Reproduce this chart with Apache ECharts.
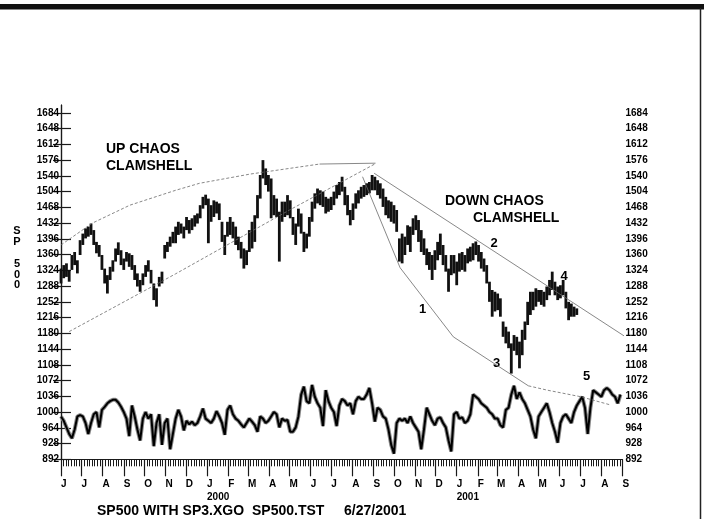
<!DOCTYPE html>
<html><head><meta charset="utf-8">
<script src="https://cdn.jsdelivr.net/npm/echarts@6/dist/echarts.min.js"></script>
<style>html,body{margin:0;padding:0;background:#fff}#c{width:704px;height:519px}</style>
</head><body><div id="c"></div>
<script>
// ---- DATA ----
const startDate = [1999, 6, 1];           // day 0 = 1 Jun 1999
const barStepDays = 4;                     // one bar / oscillator point every 4 calendar days
const priceHigh = [1328,1336,1340,1325,1359,1366,1347,1393,1408,1420,1424,1431,1416,1389,1382,1359,1328,1313,1332,1347,
1374,1388,1370,1351,1366,1363,1359,1336,1317,1302,1317,1336,1347,1325,1294,1283,1309,1321,1382,1389,
1401,1412,1424,1435,1431,1424,1446,1439,1443,1450,1454,1473,1492,1497,1488,1473,1484,1481,1477,1435,
1405,1435,1446,1435,1424,1401,1389,1374,1370,1416,1435,1450,1496,1542,1576,1557,1542,1534,1496,1488,
1458,1481,1481,1496,1484,1446,1431,1465,1454,1412,1408,1446,1481,1500,1511,1507,1504,1492,1488,1492,
1504,1519,1526,1538,1515,1496,1462,1477,1500,1507,1515,1519,1523,1526,1542,1538,1530,1523,1511,1492,
1484,1481,1473,1462,1397,1408,1401,1427,1424,1443,1450,1439,1416,1397,1374,1366,1359,1370,1389,1408,
1382,1359,1328,1359,1359,1344,1363,1366,1359,1374,1378,1386,1390,1382,1366,1351,1336,1298,1279,1275,
1271,1260,1207,1195,1184,1157,1176,1172,1161,1188,1207,1252,1275,1275,1283,1279,1279,1275,1287,1302,
1321,1298,1287,1290,1302,1275,1252,1248,1241,1237];
const priceLow = [1294,1306,1309,1298,1325,1336,1317,1359,1382,1397,1401,1405,1382,1363,1355,1325,1294,1271,1302,1321,
1344,1359,1336,1325,1344,1332,1325,1302,1287,1275,1290,1309,1321,1294,1256,1241,1287,1294,1351,1366,
1378,1386,1386,1405,1408,1397,1416,1408,1416,1424,1431,1443,1465,1473,1386,1435,1446,1454,1439,1389,
1359,1401,1405,1397,1382,1370,1351,1328,1336,1366,1374,1389,1443,1488,1534,1519,1504,1443,1450,1446,
1344,1435,1446,1450,1443,1405,1382,1424,1408,1366,1374,1401,1435,1465,1477,1473,1469,1454,1458,1462,
1473,1488,1496,1504,1473,1450,1427,1439,1465,1477,1488,1492,1496,1500,1507,1507,1496,1488,1469,1450,
1443,1435,1431,1412,1344,1340,1359,1382,1366,1405,1416,1389,1366,1359,1336,1325,1302,1325,1347,1359,
1336,1321,1275,1313,1317,1290,1321,1325,1321,1340,1344,1347,1359,1344,1328,1321,1294,1252,1218,1230,
1233,1218,1172,1157,1146,1088,1140,1130,1100,1130,1165,1199,1222,1233,1241,1252,1245,1241,1256,1267,
1279,1267,1256,1260,1267,1237,1210,1218,1218,1222];
const oscValues = [990,980,965,950,940,960,990,993,990,975,950,975,995,1000,965,1005,1012,1020,1025,1028,
1028,1022,1012,1000,985,945,1015,990,960,935,985,1000,985,995,922,975,995,925,975,985,
915,950,985,1005,990,958,980,972,978,970,975,990,1008,985,980,975,985,1002,990,975,
948,1005,1015,995,985,980,972,965,975,985,978,970,955,990,985,975,980,990,1000,995,
965,985,980,982,955,955,965,990,1040,1058,1025,1020,1062,1035,1020,1010,968,1050,1025,1010,
1000,968,1015,1030,1025,1015,1020,995,1025,1035,1030,1030,1040,1055,1020,978,1010,1005,990,985,
960,925,905,975,985,980,985,975,990,975,965,955,915,960,1010,995,980,970,985,988,
975,965,935,910,995,1000,985,988,975,980,995,1040,1035,1030,1020,1015,1010,1000,995,985,
985,970,965,1005,1010,1040,1060,1030,1045,1030,1020,1005,990,960,940,990,1000,1010,1020,1000,
975,955,930,975,990,995,985,975,1000,1015,1025,1035,1010,950,1010,1050,1045,1040,1035,1050,
1055,1050,1040,1035,1020,1040];
const yTicks = [892,928,964,1000,1036,1072,1108,1144,1180,1216,1252,1288,1324,1360,1396,1432,1468,1504,1540,1576,1612,1648,1684];
const monthLabels = ['J','J','A','S','O','N','D','J','F','M','A','M','J','J','A','S','O','N','D','J','F','M','A','M','J','J','A','S'];
const yearLabels = ['2000','2001'];
// clamshell guide lines: [day, value]
const upClamUpper = [[0,1382],[46,1432],[101,1473],[168,1507],[203,1523],[277,1544],[379,1567]];
const upClamTop   = [[379,1567],[461,1569]];
const upClamLower = [[12,1184],[168,1316],[335,1462],[461,1568]];
const downClamUpper = [[459,1546],[849,1150]];
const downClamLower = [[442,1538],[497,1330],[575,1172],[685,1060]];
const downClamTail  = [[685,1060],[713,1050],[762,1035],[806,1016]];

// ---- BUILD ----
const DAY0 = Date.UTC(startDate[0], startDate[1]-1, startDate[2]);
const dayOf = (y,m,d) => Math.round((Date.UTC(y,m-1,d)-DAY0)/864e5);
const monthDays = [];
for (let i = 0; i < monthLabels.length; i++) { const m = 5 + i; monthDays.push(dayOf(1999 + Math.floor(m/12), (m%12)+1, 1)); }
const yearDays = [dayOf(2000,1,1), dayOf(2001,1,1)];
const minorTicks = [];
for (let i = 0; i < monthDays.length-1; i++) { const a = monthDays[i], b = monthDays[i+1]; for (let k=1;k<8;k++) minorTicks.push(a + (b-a)*k/8); }
const X_MAX = monthDays[monthDays.length-1];
const bars = priceHigh.map((h,i)=>[i*barStepDays, priceLow[i], h]);
const osc = oscValues.map((v,i)=>[i*barStepDays, v]);

const FONT = 'Liberation Sans, Arial, sans-serif';
const chart = echarts.init(document.getElementById('c'), null, {renderer:'canvas'});
const axisCol = '#1a1a1a';
const yAxisBase = (pos, tickLen, margin) => ({
  type:'value', position:pos, min:892, max:1702,
  axisLine:{show:true, lineStyle:{color:axisCol, width:1.2}},
  axisTick:{show:true, length:tickLen, customValues:yTicks, lineStyle:{color:axisCol, width:1.2}},
  axisLabel:{show:true, customValues:yTicks, margin:margin, fontFamily:FONT, fontWeight:'bold', fontSize:10, color:'#000',
    formatter:(v)=>String(Math.round(v))},
  splitLine:{show:false}
});
const guide = (data, dashed) => ({type:'line', data, symbol:'none', silent:true, clip:false, z:3,
  lineStyle:{color:'#6a6a6a', width:0.8, type: dashed ? [3,2] : 'solid'}});

chart.setOption({
  animation:false,
  backgroundColor:'#fff',
  grid:{left:61, right:81.5, top:105, bottom:59.7, containLabel:false},
  xAxis:[
    {type:'value', min:0, max:X_MAX, axisLine:{show:true, lineStyle:{color:axisCol, width:1.2}},
     axisTick:{show:true, length:7, customValues:minorTicks, lineStyle:{color:axisCol, width:1}},
     axisLabel:{show:false}, splitLine:{show:false}},
    {type:'value', min:0, max:X_MAX, position:'bottom', axisLine:{show:false},
     axisTick:{show:true, length:17, customValues:monthDays, lineStyle:{color:axisCol, width:1.2}},
     axisLabel:{show:true, customValues:monthDays, margin:20, align:'left', fontFamily:FONT, fontWeight:'bold', fontSize:10, color:'#000',
       formatter:(v)=>monthLabels[monthDays.indexOf(Math.round(v))] || ''}, splitLine:{show:false}},
    {type:'value', min:0, max:X_MAX, position:'bottom', axisLine:{show:false}, axisTick:{show:false},
     axisLabel:{show:true, customValues:yearDays, margin:33, align:'left', fontFamily:FONT, fontWeight:'bold', fontSize:10, color:'#000',
       formatter:(v)=>yearLabels[yearDays.indexOf(Math.round(v))] || ''}, splitLine:{show:false}}
  ],
  yAxis:[ yAxisBase('left', 8, 2), yAxisBase('right', 10, 3) ],
  series:[
    {type:'custom', data:bars, encode:{x:0, y:[1,2]}, z:2,
     renderItem:(params, api)=>{
       const d = api.value(0);
       const p1 = api.coord([d, api.value(1)]), p2 = api.coord([d, api.value(2)]);
       return {type:'line', shape:{x1:p1[0], y1:p1[1], x2:p2[0], y2:p2[1]}, style:{stroke:'#111', lineWidth:2.8}};
     }},
    {type:'line', data:osc, symbol:'none', z:1, lineStyle:{color:'#8a8a8a', width:4}},
    {type:'line', data:osc, symbol:'none', z:2, lineStyle:{color:'#000', width:2}},
    guide(upClamUpper, true), guide(upClamTop, false), guide(upClamLower, true),
    guide(downClamUpper, false), guide(downClamLower, false), guide(downClamTail, true)
  ],
  graphic:[
    {type:'rect', shape:{x:0, y:4, width:704, height:5}, style:{fill:'#111'}},
    {type:'line', shape:{x1:0, y1:9.5, x2:704, y2:9.5}, style:{stroke:'#888', lineWidth:1}},
    {type:'line', shape:{x1:700.5, y1:8, x2:700.5, y2:519}, style:{stroke:'#222', lineWidth:1.5}},
    {type:'text', x:17, y:226, style:{text:'S\nP\n\n5\n0\n0', font:'bold 11px '+FONT, fill:'#000', textAlign:'center', lineHeight:10.8}},
    {type:'text', x:106, y:149.5, style:{text:'UP CHAOS', font:'bold 14px '+FONT, fill:'#000', textVerticalAlign:'middle'}},
    {type:'text', x:106, y:166, style:{text:'CLAMSHELL', font:'bold 14px '+FONT, fill:'#000', textVerticalAlign:'middle'}},
    {type:'text', x:445, y:201.5, style:{text:'DOWN CHAOS', font:'bold 14px '+FONT, fill:'#000', textVerticalAlign:'middle'}},
    {type:'text', x:473, y:218, style:{text:'CLAMSHELL', font:'bold 14px '+FONT, fill:'#000', textVerticalAlign:'middle'}},
    {type:'text', x:422.5, y:309, style:{text:'1', font:'bold 13px '+FONT, fill:'#000', textAlign:'center', textVerticalAlign:'middle'}},
    {type:'text', x:494, y:243, style:{text:'2', font:'bold 13px '+FONT, fill:'#000', textAlign:'center', textVerticalAlign:'middle'}},
    {type:'text', x:496.5, y:363.5, style:{text:'3', font:'bold 13px '+FONT, fill:'#000', textAlign:'center', textVerticalAlign:'middle'}},
    {type:'text', x:564, y:276.5, style:{text:'4', font:'bold 13px '+FONT, fill:'#000', textAlign:'center', textVerticalAlign:'middle'}},
    {type:'text', x:586.5, y:376.5, style:{text:'5', font:'bold 13px '+FONT, fill:'#000', textAlign:'center', textVerticalAlign:'middle'}},
    {type:'text', x:97, y:511, style:{text:'SP500 WITH SP3.XGO', font:'bold 14px '+FONT, fill:'#000', textVerticalAlign:'middle'}},
    {type:'text', x:252, y:511, style:{text:'SP500.TST', font:'bold 14px '+FONT, fill:'#000', textVerticalAlign:'middle'}},
    {type:'text', x:344, y:511, style:{text:'6/27/2001', font:'bold 14px '+FONT, fill:'#000', textVerticalAlign:'middle'}}
  ]
});
</script></body></html>
